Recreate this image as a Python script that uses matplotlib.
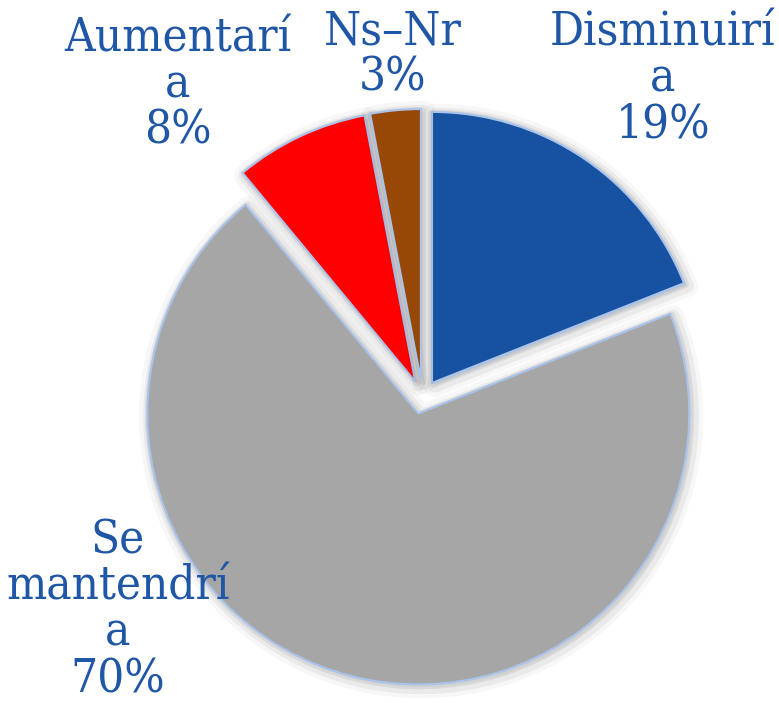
import matplotlib.pyplot as plt
import matplotlib.patheffects as pe

labels = ["Disminuirí\na", "Se\nmantendrí\na", "Aumentarí\na", "Ns–Nr"]
values = [19, 70, 8, 3]
colors = ["#1652A1", "#A6A6A6", "#FF0000", "#974706"]
# label centres in pixel coords (x, y from top)
label_pos = [(663, 79), (118, 610), (178, 85), (393, 55)]

W, H = 779, 703
fig = plt.figure(figsize=(W / 100, H / 100), dpi=100)
ax = fig.add_axes([0, 0, 1, 1])

# explode is in data units here (pixels), not scaled by radius
wedges, _ = ax.pie(values, colors=colors, startangle=90, counterclock=False,
                   explode=[17] * 4, radius=271, center=(422.5, H - 397),
                   wedgeprops=dict(edgecolor="#A9C3EA", linewidth=1.5,
                                   joinstyle="round"))
for w in wedges:
    w.set_path_effects([
        pe.Stroke(linewidth=16, foreground="#000000", alpha=0.03,
                  offset=(2, -2), joinstyle="round"),
        pe.Stroke(linewidth=10, foreground="#000000", alpha=0.05,
                  offset=(2, -2), joinstyle="round"),
        pe.Stroke(linewidth=5, foreground="#000000", alpha=0.07,
                  offset=(1, -1), joinstyle="round"),
        pe.Normal()])

for lab, v, (x, y) in zip(labels, values, label_pos):
    ax.text(x, H - y, f"{lab}\n{v}%", ha="center", va="center",
            fontsize=34, color="#1F56A5", linespacing=1.03,
            family="DejaVu Serif", stretch="condensed")

ax.set_xlim(0, W)
ax.set_ylim(0, H)
ax.set_aspect("equal")
ax.axis("off")
fig.savefig("out.png", dpi=100)
